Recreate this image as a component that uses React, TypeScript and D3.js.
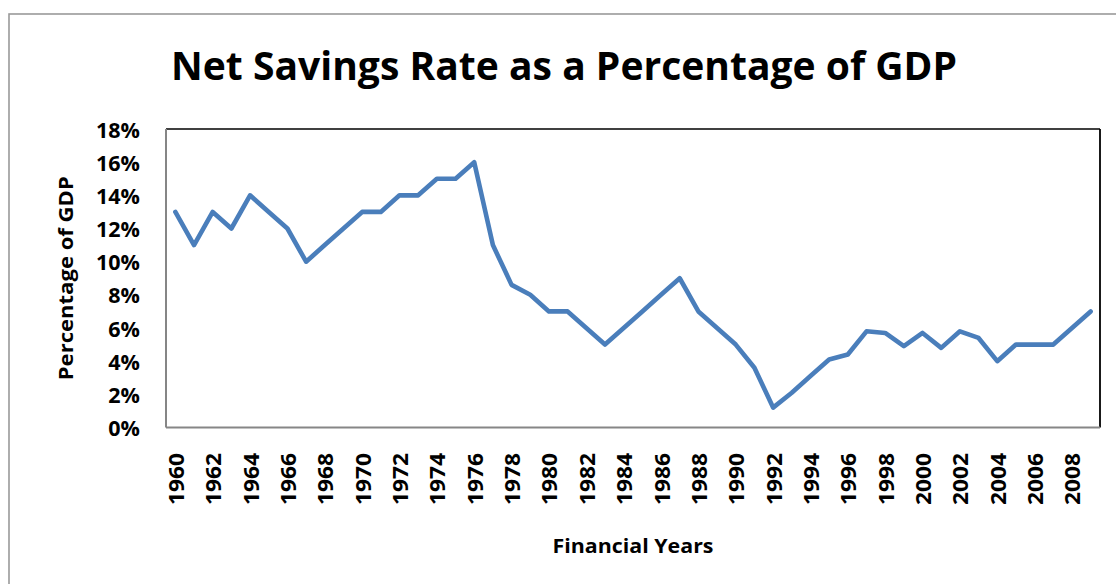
import React from "react";
import * as d3 from "d3";

// Net national savings as a share of GDP, financial years 1960–2009 (percent)
const years: number[] = [
  1960, 1961, 1962, 1963, 1964, 1965, 1966, 1967, 1968, 1969,
  1970, 1971, 1972, 1973, 1974, 1975, 1976, 1977, 1978, 1979,
  1980, 1981, 1982, 1983, 1984, 1985, 1986, 1987, 1988, 1989,
  1990, 1991, 1992, 1993, 1994, 1995, 1996, 1997, 1998, 1999,
  2000, 2001, 2002, 2003, 2004, 2005, 2006, 2007, 2008, 2009,
];
const savingsRate: number[] = [
  13, 11, 13, 12, 14, 13, 12, 10, 11, 12,
  13, 13, 14, 14, 15, 15, 16, 11, 8.6, 8.0,
  7, 7, 6, 5, 6, 7, 8, 9, 7, 6,
  5, 3.6, 1.2, 2.1, 3.1, 4.1, 4.4, 5.8, 5.7, 4.9,
  5.7, 4.8, 5.8, 5.4, 4.0, 5.0, 5.0, 5.0, 6.0, 7.0,
];
const yTicks: number[] = [0, 2, 4, 6, 8, 10, 12, 14, 16, 18];
const xTickYears: number[] = years.filter((y) => y % 2 === 0);

const titleText = "Net Savings Rate as a Percentage of GDP";
const yAxisTitle = "Percentage of GDP";
const xAxisTitle = "Financial Years";

const W = 1116;
const H = 584;
const plot = { left: 166, right: 1100, top: 129, bottom: 427.5 };
const FONT = "'Open Sans', 'Noto Sans', sans-serif";

export default function App() {
  const x = d3
    .scaleBand<number>()
    .domain(years)
    .range([plot.left, plot.right])
    .paddingInner(0)
    .paddingOuter(0);
  const xc = (yr: number) => (x(yr) ?? 0) + x.bandwidth() / 2;
  const y = d3.scaleLinear().domain([0, 18]).range([plot.bottom, plot.top]);

  const line = d3
    .line<number>()
    .x((_, i) => xc(years[i]))
    .y((v) => y(v));

  const cx = (plot.left + plot.right) / 2;
  const cy = (plot.top + plot.bottom) / 2;

  return (
    <svg
      width={W}
      height={H}
      viewBox={`0 0 ${W} ${H}`}
      style={{ position: "absolute", left: 0, top: 0, background: "#fff" }}
      fontFamily={FONT}
    >
      <rect x={0} y={0} width={W} height={H} fill="#fff" />
      {/* chart frame */}
      <rect x={9} y={14} width={W + 40} height={H + 40} fill="none" stroke="#9a9a9a" strokeWidth={1.6} />

      {/* title */}
      <text
        x={564}
        y={79.5}
        textAnchor="middle"
        fontSize={39}
        fontWeight={700}
        fill="#000"
        textLength={786}
        lengthAdjust="spacingAndGlyphs"
      >
        {titleText}
      </text>

      {/* plot area frame: dark top/right, grey left/bottom */}
      <line x1={plot.left} x2={plot.right} y1={plot.top} y2={plot.top} stroke="#000" strokeWidth={1.5} />
      <line x1={plot.right} x2={plot.right} y1={plot.top} y2={plot.bottom} stroke="#000" strokeWidth={1.8} />
      <line x1={plot.left} x2={plot.left} y1={plot.top} y2={plot.bottom} stroke="#868686" strokeWidth={2} />
      <line x1={plot.left} x2={plot.right} y1={plot.bottom} y2={plot.bottom} stroke="#868686" strokeWidth={2} />

      {/* y axis tick labels */}
      {yTicks.map((t) => (
        <text
          key={t}
          x={140}
          y={y(t)}
          textAnchor="end"
          dominantBaseline="central"
          fontSize={21.5}
          fontWeight={700}
          fill="#000"
        >
          {`${t}%`}
        </text>
      ))}

      {/* x axis tick labels */}
      {xTickYears.map((yr) => (
        <text
          key={yr}
          transform={`translate(${xc(yr)},453) rotate(-90)`}
          textAnchor="end"
          dominantBaseline="central"
          fontSize={21.5}
          fontWeight={700}
          fill="#000"
          textLength={52}
          lengthAdjust="spacingAndGlyphs"
        >
          {String(yr)}
        </text>
      ))}

      {/* axis titles */}
      <text
        transform={`translate(66,${cy}) rotate(-90)`}
        textAnchor="middle"
        dominantBaseline="central"
        fontSize={19}
        fontWeight={700}
        fill="#000"
        textLength={204}
        lengthAdjust="spacingAndGlyphs"
      >
        {yAxisTitle}
      </text>
      <text
        x={cx}
        y={553}
        textAnchor="middle"
        fontSize={19}
        fontWeight={700}
        fill="#000"
        textLength={161}
        lengthAdjust="spacingAndGlyphs"
      >
        {xAxisTitle}
      </text>

      {/* series */}
      <path
        d={line(savingsRate) ?? ""}
        fill="none"
        stroke="#4a7ebb"
        strokeWidth={4.6}
        strokeLinejoin="round"
        strokeLinecap="round"
      />
    </svg>
  );
}
